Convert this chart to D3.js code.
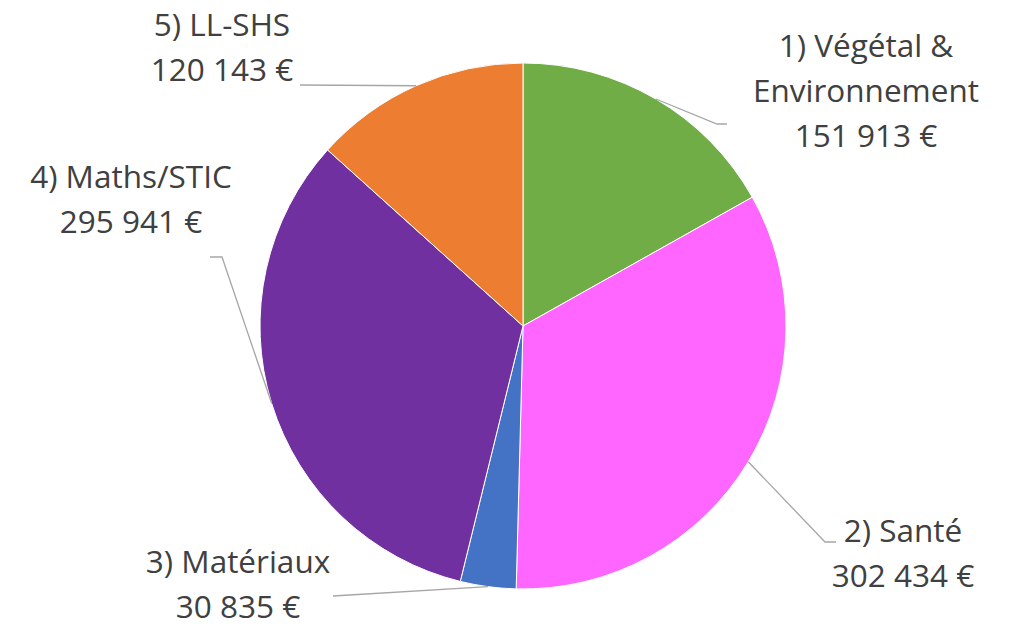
<!DOCTYPE html>
<html>
<head>
<meta charset="utf-8">
<script src="https://cdn.jsdelivr.net/npm/d3@7"></script>
<style>
  body { margin: 0; background: #fff; }
  svg { display: block; }
</style>
</head>
<body>
<svg></svg>
<script>
const categories = ["1) Végétal & Environnement", "2) Santé", "3) Matériaux", "4) Maths/STIC", "5) LL-SHS"];
const amounts = [151913, 302434, 30835, 295941, 120143];
const colors = ["#70AD47", "#FF66FF", "#4472C4", "#7030A0", "#ED7D31"];

// label layout: text lines, centre x, first baseline, and the leader elbow points
const labelLines = [
    ["1) Végétal &", "Environnement"],
    ["2) Santé"],
    ["3) Matériaux"],
    ["4) Maths/STIC"],
    ["5) LL-SHS"]
];
const labelPos = [
    { x: 866, y: 57, line: [[717, 124], [727, 124]] },
    { x: 903, y: 542, line: [[825, 542], [836, 542]] },
    { x: 238, y: 573, line: [[333, 596]] },
    { x: 131, y: 188, line: [[222, 257], [210, 257]] },
    { x: 222, y: 36, line: [[300, 85]] }
];

const width = 1010;
const height = 626;
const cx = 523;
const cy = 326;
const radius = 263;
const lineHeight = 45;

const svg = d3.select("svg").attr("width", width).attr("height", height);

const fmt = (v) => d3.format(",")(v).replace(/,/g, " ") + " €";

const pie = d3.pie().sort(null).value((d) => d);
const arcs = pie(amounts);
const arc = d3.arc().innerRadius(0).outerRadius(radius);

const g = svg.append("g").attr("transform", "translate(" + cx + "," + cy + ")");

g.selectAll("path.slice")
    .data(arcs)
    .enter()
    .append("path")
    .attr("class", "slice")
    .attr("d", arc)
    .attr("fill", (d, i) => colors[i])
    .attr("stroke", "#fff")
    .attr("stroke-width", 1);

// leader lines from the middle of each slice's outer arc
arcs.forEach((d, i) => {
    const mid = (d.startAngle + d.endAngle) / 2;
    const start = [cx + radius * Math.sin(mid), cy - radius * Math.cos(mid)];
    const pts = [start].concat(labelPos[i].line);
    svg.append("path")
        .attr("d", d3.line()(pts))
        .attr("fill", "none")
        .attr("stroke", "#A6A6A6")
        .attr("stroke-width", 1.3);
});

// labels
categories.forEach((c, i) => {
    const lines = labelLines[i].concat([fmt(amounts[i])]);
    const t = svg.append("text")
        .attr("text-anchor", "middle")
        .attr("font-family", "'Open Sans', sans-serif")
        .attr("font-size", 31.5)
        .attr("fill", "#404040");
    lines.forEach((l, j) => {
        t.append("tspan")
            .attr("x", labelPos[i].x)
            .attr("y", labelPos[i].y + j * lineHeight)
            .text(l);
    });
});
</script>
</body>
</html>
